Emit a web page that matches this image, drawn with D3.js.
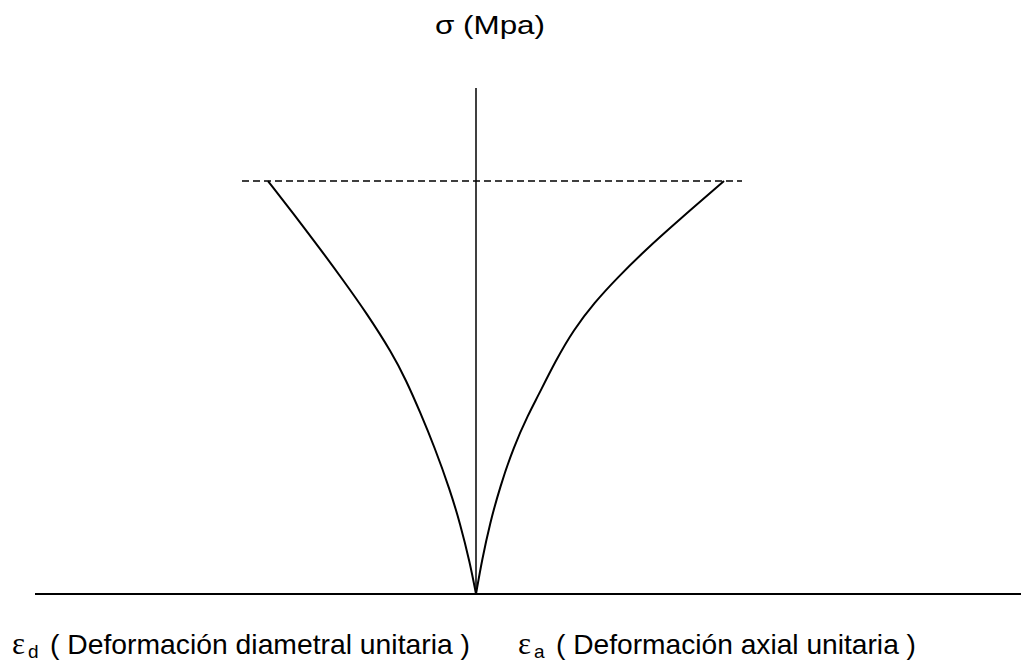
<!DOCTYPE html>
<html>
<head>
<meta charset="utf-8">
<script src="https://cdn.jsdelivr.net/npm/d3@7"></script>
<style>
  html, body { margin: 0; padding: 0; background: #fff; }
  svg { display: block; }
  text { font-family: "Liberation Sans", Arial, sans-serif; fill: #000; }
</style>
</head>
<body>
<svg id="chart" width="1021" height="662"></svg>
<script>
// Stress (σ) vs. unit strain curves for a compression test.
// Axial strain is positive (right), diametral strain negative (left).
const stressDiametral = [0, 7.66, 17.54, 25.69, 36.31, 44.71, 52.87, 59.54, 69.42, 77.57, 84.98, 94.12, 102];
const strainDiametral = [0, -0.12, -0.32, -0.52, -0.83, -1.11, -1.40, -1.68, -2.19, -2.66, -3.10, -3.66, -4.16];

const stressAxial = [0, 8.40, 17.54, 26.43, 36.31, 44.71, 48.42, 57.81, 65.22, 71.89, 78.31, 84.98, 91.65, 102];
const strainAxial = [0, 0.12, 0.28, 0.48, 0.75, 1.06, 1.22, 1.60, 1.95, 2.36, 2.84, 3.39, 3.99, 4.96];

const peakStress = 102;
const peakLineStrain = [-4.68, 5.32];
const stressAxisMax = 125;
const strainDomain = [-8.82, 10.9];

const titleY = "σ (Mpa)";
const labelDiam = { sym: "ε", sub: "d", text: "( Deformación diametral unitaria )" };
const labelAxial = { sym: "ε", sub: "a", text: "( Deformación axial unitaria )" };

const svg = d3.select("#chart");

const x = d3.scaleLinear().domain(strainDomain).range([35, 1021]);
const y = d3.scaleLinear().domain([0, stressAxisMax]).range([594, 88]);

// horizontal strain axis
svg.append("line")
  .attr("x1", x(strainDomain[0])).attr("x2", x(strainDomain[1]))
  .attr("y1", y(0)).attr("y2", y(0))
  .attr("stroke", "#000").attr("stroke-width", 2);

// vertical stress axis
svg.append("line")
  .attr("x1", x(0)).attr("x2", x(0))
  .attr("y1", y(0)).attr("y2", y(stressAxisMax))
  .attr("stroke", "#000").attr("stroke-width", 1.5);

// peak stress reference
svg.append("line")
  .attr("x1", x(peakLineStrain[0])).attr("x2", x(peakLineStrain[1]))
  .attr("y1", y(peakStress)).attr("y2", y(peakStress))
  .attr("stroke", "#000").attr("stroke-width", 1.5)
  .attr("stroke-dasharray", "7,4");

const line = d3.line()
  .x(d => x(d[0]))
  .y(d => y(d[1]))
  .curve(d3.curveBasis);

const diam = strainDiametral.map((e, i) => [e, stressDiametral[i]]);
const axial = strainAxial.map((e, i) => [e, stressAxial[i]]);

[diam, axial].forEach(pts => {
  svg.append("path")
    .datum(pts)
    .attr("d", line)
    .attr("fill", "none")
    .attr("stroke", "#000")
    .attr("stroke-width", 2)
    .attr("stroke-linejoin", "round");
});

// axis titles
svg.append("text")
  .attr("x", 435).attr("y", 34)
  .attr("font-size", 25)
  .attr("textLength", 110)
  .attr("lengthAdjust", "spacingAndGlyphs")
  .text(titleY);

function strainLabel(lbl, xPos, textWidth) {
  svg.append("text")
    .attr("x", xPos).attr("y", 654)
    .attr("font-size", 31)
    .style("font-family", "'Liberation Serif', 'Times New Roman', serif")
    .text(lbl.sym);
  svg.append("text")
    .attr("x", xPos + 16).attr("y", 658)
    .attr("font-size", 19)
    .text(lbl.sub);
  svg.append("text")
    .attr("x", xPos + 38).attr("y", 654)
    .attr("font-size", 28)
    .attr("textLength", textWidth)
    .attr("lengthAdjust", "spacingAndGlyphs")
    .text(lbl.text);
}
strainLabel(labelDiam, 12, 420);
strainLabel(labelAxial, 518, 360);
</script>
</body>
</html>
